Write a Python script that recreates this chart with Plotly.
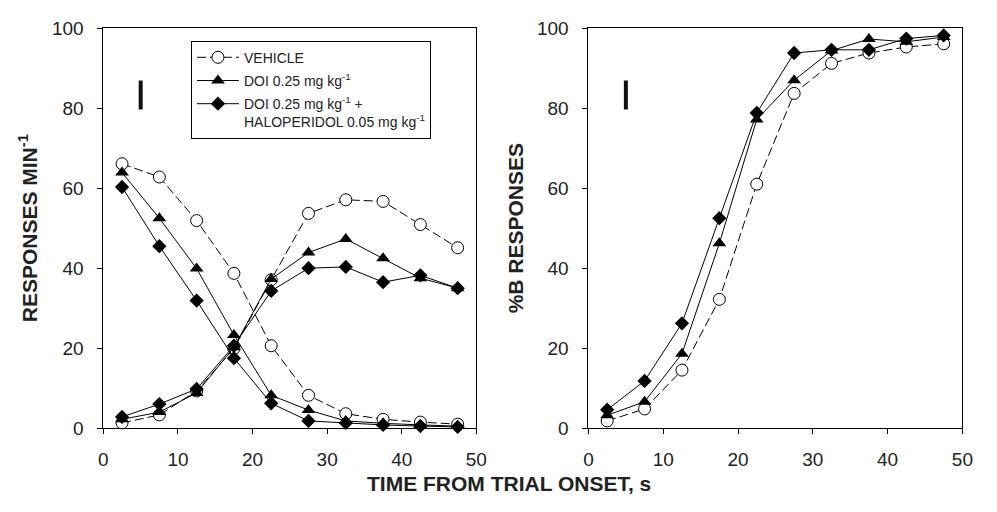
import plotly.graph_objects as go

# ---- data ----
time_s = [2.5, 7.5, 12.5, 17.5, 22.5, 27.5, 32.5, 37.5, 42.5, 47.5]

# Left panel: responses per minute (A responses falling, B responses rising)
veh_a = [66.1, 62.8, 51.9, 38.7, 20.6, 8.2, 3.6, 2.2, 1.5, 1.0]
veh_b = [1.3, 3.3, 9.3, 19.9, 37.1, 53.7, 57.1, 56.7, 50.9, 45.1]
doi_a = [63.9, 52.5, 39.9, 23.3, 8.2, 4.5, 1.8, 1.2, 0.8, 0.5]
doi_b = [2.2, 4.0, 8.8, 20.2, 37.3, 43.9, 47.3, 42.5, 37.5, 35.0]
hal_a = [60.3, 45.5, 31.9, 17.5, 6.2, 1.8, 1.3, 0.8, 0.5, 0.3]
hal_b = [2.8, 6.0, 9.8, 20.6, 34.3, 40.0, 40.3, 36.5, 38.2, 35.0]

# Right panel: %B responses
veh_pct = [1.8, 4.8, 14.5, 32.2, 61.0, 83.7, 91.2, 93.8, 95.3, 96.1]
doi_pct = [3.2, 6.6, 18.6, 46.2, 77.2, 87.0, 94.4, 97.3, 96.6, 97.8]
hal_pct = [4.6, 11.8, 26.2, 52.5, 78.8, 93.8, 94.6, 94.6, 97.4, 98.2]

# Representative error bar shown in each panel
err_x = [5.0, 5.0]
err_y = [79.7, 86.9]

names = ["VEHICLE",
         "DOI 0.25 mg kg<sup>-1</sup>",
         "DOI 0.25 mg kg<sup>-1</sup> +<br>HALOPERIDOL 0.05 mg kg<sup>-1</sup>"]
x_ticks = [0, 10, 20, 30, 40, 50]
y_ticks = [0, 20, 40, 60, 80, 100]

FONT = "Liberation Sans, Arial, Helvetica, sans-serif"
W, H = 997, 512


def px_x(p):  # page pixel -> paper fraction
    return p / W


def px_y(p):
    return 1 - p / H


styles = [
    dict(marker=dict(symbol="circle", size=12, color="white", line=dict(color="black", width=1)),
         line=dict(color="black", width=1, dash="9px,4px")),
    dict(marker=dict(symbol="triangle-up", size=12, color="black", line=dict(color="black", width=0)),
         line=dict(color="black", width=1)),
    dict(marker=dict(symbol="diamond", size=11, color="black", line=dict(color="black", width=0)),
         line=dict(color="black", width=1)),
]

fig = go.Figure()

left_series = [(veh_a, veh_b), (doi_a, doi_b), (hal_a, hal_b)]
right_series = [veh_pct, doi_pct, hal_pct]

for i, (a, b) in enumerate(left_series):
    for j, ys in enumerate((a, b)):
        fig.add_trace(go.Scatter(
            x=time_s, y=ys, mode="lines+markers", name=names[i],
            legendgroup=str(i), showlegend=(j == 0), cliponaxis=False,
            xaxis="x", yaxis="y", **styles[i]))

for i, ys in enumerate(right_series):
    fig.add_trace(go.Scatter(
        x=time_s, y=ys, mode="lines+markers", name=names[i],
        legendgroup=str(i), showlegend=False, cliponaxis=False,
        xaxis="x2", yaxis="y2", **styles[i]))

for xa, ya in (("x", "y"), ("x2", "y2")):
    fig.add_trace(go.Scatter(
        x=err_x, y=err_y, mode="lines", showlegend=False, hoverinfo="skip",
        line=dict(color="#111", width=4), xaxis=xa, yaxis=ya))

axis_common = dict(
    showline=True, linecolor="black", linewidth=1, mirror=True,
    ticks="outside", ticklen=5, tickwidth=1, tickcolor="black",
    showgrid=False, zeroline=False,
    tickfont=dict(family=FONT, size=19, color="#222"),
)
x_common = dict(axis_common, range=[0, 50], tickvals=x_ticks, ticklabelstandoff=9)
y_common = dict(axis_common, range=[0, 100], tickvals=y_ticks, ticklabelstandoff=10)

y_dom = [px_y(436), px_y(19)]
title_font = dict(family=FONT, size=21, color="#222")
fig.update_layout(
    width=W, height=H,
    margin=dict(l=0, r=0, t=0, b=0),
    paper_bgcolor="white", plot_bgcolor="white",
    font=dict(family=FONT, color="#222"),
    hovermode=False,
    xaxis=dict(domain=[px_x(100), px_x(479)], anchor="y", **x_common),
    yaxis=dict(domain=y_dom, anchor="x", **y_common),
    xaxis2=dict(domain=[px_x(593), px_x(973)], anchor="y2", **x_common),
    yaxis2=dict(domain=y_dom, anchor="x2", **y_common),
    legend=dict(
        x=px_x(189), y=px_y(32), xanchor="left", yanchor="top",
        bordercolor="black", borderwidth=1, bgcolor="white",
        font=dict(family=FONT, size=14, color="#222"),
        valign="top", tracegroupgap=2, itemwidth=42,
    ),
    showlegend=True,
    annotations=[
        dict(text="<b>TIME FROM TRIAL ONSET, s</b>", x=px_x(512), y=px_y(494),
             xanchor="center", yanchor="middle",
             xref="paper", yref="paper", showarrow=False, font=title_font),
        dict(text="<b>RESPONSES MIN<sup>-1</sup></b>", x=px_x(23), y=px_y(228),
             xanchor="center", yanchor="middle",
             xref="paper", yref="paper", showarrow=False, textangle=-90, font=title_font),
        dict(text="<b>%B RESPONSES</b>", x=px_x(519), y=px_y(228),
             xanchor="center", yanchor="middle",
             xref="paper", yref="paper", showarrow=False, textangle=-90, font=title_font),
    ],
)

fig.write_html("out.html", config={"displayModeBar": False},
               post_script="document.body.style.margin='0';")
